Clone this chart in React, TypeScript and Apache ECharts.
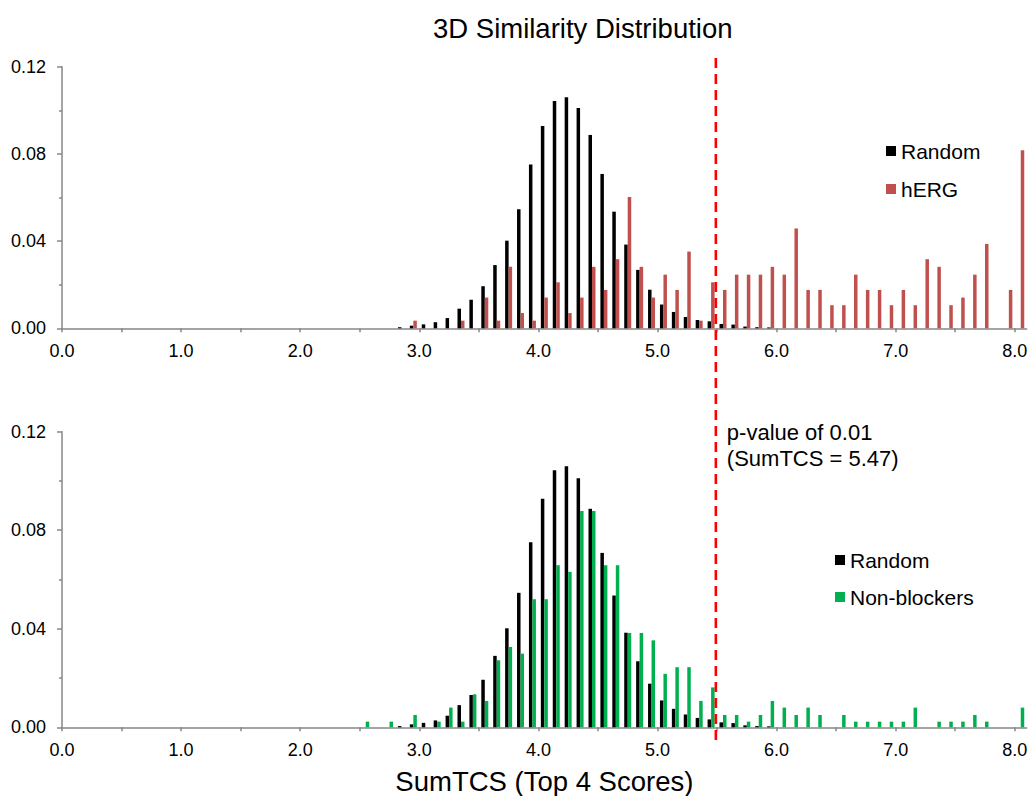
import React, { useEffect, useRef } from "react";
import * as echarts from "echarts";

// ---- Data (bin lower edges, bin width 0.1) ----
const BIN_HALF = 0.05;

const randomBins = [2.8, 2.9, 3.0, 3.1, 3.2, 3.3, 3.4, 3.5, 3.6, 3.7, 3.8, 3.9, 4.0, 4.1, 4.2, 4.3, 4.4, 4.5, 4.6, 4.7, 4.8, 4.9, 5.0, 5.1, 5.2, 5.3, 5.4, 5.5, 5.6, 5.7, 5.8, 5.9];
const randomValues = [0.0005, 0.0012, 0.0018, 0.0028, 0.0047, 0.009, 0.0131, 0.0193, 0.029, 0.0402, 0.0546, 0.0751, 0.0928, 0.1043, 0.106, 0.1011, 0.0887, 0.0708, 0.0535, 0.0384, 0.0268, 0.0177, 0.0109, 0.0075, 0.0052, 0.0038, 0.0032, 0.002, 0.0017, 0.0008, 0.0005, 0.0004];

const hergBins = [2.9, 3.3, 3.5, 3.6, 3.7, 3.8, 3.9, 4.0, 4.1, 4.2, 4.3, 4.4, 4.5, 4.6, 4.7, 4.8, 4.9, 5.0, 5.1, 5.2, 5.3, 5.4, 5.5, 5.6, 5.7, 5.8, 5.9, 6.0, 6.1, 6.2, 6.3, 6.4, 6.5, 6.6, 6.7, 6.8, 6.9, 7.0, 7.1, 7.2, 7.3, 7.4, 7.5, 7.6, 7.7, 7.9, 8.0];
const hergValues = [0.0035, 0.0035, 0.0141, 0.0035, 0.0282, 0.007, 0.0035, 0.0141, 0.0211, 0.007, 0.0141, 0.0282, 0.0176, 0.0317, 0.0602, 0.0282, 0.0141, 0.0246, 0.0176, 0.0352, 0.0035, 0.0211, 0.0176, 0.0246, 0.0246, 0.0246, 0.0282, 0.0246, 0.0458, 0.0176, 0.0176, 0.0106, 0.0106, 0.0246, 0.0176, 0.0176, 0.0106, 0.0176, 0.0106, 0.0317, 0.0282, 0.0106, 0.0141, 0.0246, 0.0387, 0.0176, 0.0817];

const nonBlockerBins = [2.5, 2.7, 2.9, 3.1, 3.2, 3.3, 3.4, 3.5, 3.6, 3.7, 3.8, 3.9, 4.0, 4.1, 4.2, 4.3, 4.4, 4.5, 4.6, 4.7, 4.8, 4.9, 5.0, 5.1, 5.2, 5.3, 5.4, 5.5, 5.6, 5.7, 5.8, 5.9, 6.0, 6.1, 6.2, 6.3, 6.5, 6.6, 6.7, 6.8, 6.9, 7.0, 7.1, 7.3, 7.4, 7.5, 7.6, 7.7, 8.0];
const nonBlockerValues = [0.0023, 0.0023, 0.005, 0.0023, 0.008, 0.0023, 0.0134, 0.0107, 0.0272, 0.0326, 0.0299, 0.052, 0.052, 0.0658, 0.0631, 0.0878, 0.0878, 0.0658, 0.0658, 0.0383, 0.0383, 0.0353, 0.0217, 0.0244, 0.0244, 0.0107, 0.0162, 0.005, 0.005, 0.0023, 0.005, 0.0107, 0.008, 0.005, 0.008, 0.005, 0.005, 0.0023, 0.0023, 0.0023, 0.0023, 0.0023, 0.008, 0.0023, 0.0023, 0.0023, 0.005, 0.0023, 0.008];

const xTickValues = [0, 0.5, 1, 1.5, 2, 2.5, 3, 3.5, 4, 4.5, 5, 5.5, 6, 6.5, 7, 7.5, 8];
const xLabelValues = [0, 1, 2, 3, 4, 5, 6, 7, 8];
const pValueLineX = 5.49;

const FONT = "'Liberation Sans', Arial, Helvetica, sans-serif";
const AXIS_GRAY = "#878787";

function toPairs(bins: number[], vals: number[]) {
  return bins.map((b, i) => [b + BIN_HALF, vals[i]]);
}

function xAxisCfg(gridIndex: number) {
  return {
    type: "value",
    gridIndex,
    min: 0,
    max: 8.1,
    splitLine: { show: false },
    axisLine: { show: true, lineStyle: { color: AXIS_GRAY, width: 1.5 } },
    axisTick: {
      show: true,
      length: 4,
      customValues: xTickValues,
      lineStyle: { color: AXIS_GRAY, width: 1.5 },
    },
    axisLabel: {
      customValues: xLabelValues,
      formatter: (v: number) => v.toFixed(1),
      fontSize: 18,
      color: "#000",
      margin: 14,
      fontFamily: FONT,
    },
    ...(gridIndex === 1
      ? {
          name: "SumTCS (Top 4 Scores)",
          nameLocation: "middle",
          nameGap: 40,
          nameTextStyle: { fontSize: 27.5, color: "#000", fontFamily: FONT },
        }
      : {}),
  };
}

function yAxisCfg(gridIndex: number) {
  return {
    type: "value",
    gridIndex,
    min: 0,
    max: 0.12,
    interval: 0.04,
    splitLine: { show: false },
    axisLine: { show: true, lineStyle: { color: AXIS_GRAY, width: 1.5 } },
    axisTick: { show: true, length: 5, lineStyle: { color: AXIS_GRAY, width: 1.5 } },
    minorTick: { show: true, splitNumber: 2, length: 3, lineStyle: { color: AXIS_GRAY, width: 1.5 } },
    minorSplitLine: { show: false },
    axisLabel: {
      formatter: (v: number) => v.toFixed(2),
      fontSize: 18,
      color: "#000",
      margin: 16,
      fontFamily: FONT,
    },
  };
}

export default function App() {
  const ref = useRef<HTMLDivElement>(null);
  useEffect(() => {
    if (!ref.current) return;
    const chart = echarts.init(ref.current, null, { renderer: "svg" });
    const barCommon = { type: "bar", barWidth: 3.5, barGap: "0%" };
    chart.setOption({
      animation: false,
      backgroundColor: "#ffffff",
      textStyle: { fontFamily: FONT },
      title: {
        text: "3D Similarity Distribution",
        left: 428,
        top: 9,
        textStyle: { fontSize: 27.5, fontWeight: "normal", color: "#000", fontFamily: FONT },
      },
      grid: [
        { left: 62, top: 66.7, width: 964.7, height: 261.6, outerBoundsMode: "none" },
        { left: 62, top: 431.7, width: 964.7, height: 295.6, outerBoundsMode: "none" },
      ],
      xAxis: [xAxisCfg(0), xAxisCfg(1)],
      yAxis: [yAxisCfg(0), yAxisCfg(1)],
      legend: [
        {
          data: ["Random", "hERG"],
          orient: "vertical",
          left: 881,
          top: 134,
          icon: "rect",
          itemWidth: 10,
          itemHeight: 10,
          itemGap: 14,
          textStyle: { fontSize: 21, lineHeight: 24, color: "#000", fontFamily: FONT },
          selectedMode: false,
        },
        {
          data: ["Random", "Non-blockers"],
          orient: "vertical",
          left: 830,
          top: 543,
          icon: "rect",
          itemWidth: 10,
          itemHeight: 10,
          itemGap: 13,
          textStyle: { fontSize: 21, lineHeight: 24, color: "#000", fontFamily: FONT },
          selectedMode: false,
        },
      ],
      series: [
        { ...barCommon, name: "Random", xAxisIndex: 0, yAxisIndex: 0, itemStyle: { color: "#000000" }, data: toPairs(randomBins, randomValues) },
        { ...barCommon, name: "hERG", xAxisIndex: 0, yAxisIndex: 0, itemStyle: { color: "#C0504D" }, data: toPairs(hergBins, hergValues) },
        { ...barCommon, name: "Random", xAxisIndex: 1, yAxisIndex: 1, itemStyle: { color: "#000000" }, data: toPairs(randomBins, randomValues) },
        { ...barCommon, name: "Non-blockers", xAxisIndex: 1, yAxisIndex: 1, itemStyle: { color: "#00B050" }, data: toPairs(nonBlockerBins, nonBlockerValues) },
      ],
    });
    const px = chart.convertToPixel({ xAxisIndex: 0 }, pValueLineX) as number;
    chart.setOption({
      graphic: [
        {
          type: "line",
          shape: { x1: px, y1: 58, x2: px, y2: 743 },
          style: { stroke: "#FF0000", lineWidth: 2.6, lineDash: [10, 6] },
          z: 100,
        },
        {
          type: "text",
          left: px + 11,
          top: 419,
          style: {
            text: "p-value of 0.01\n(SumTCS = 5.47)",
            fontSize: 22,
            lineHeight: 26,
            fill: "#000",
            fontFamily: FONT,
          },
        },
      ],
    });
    return () => chart.dispose();
  }, []);
  return (
    <div
      ref={ref}
      style={{ position: "absolute", left: 0, top: 0, width: 1035, height: 796, background: "#fff" }}
    />
  );
}
